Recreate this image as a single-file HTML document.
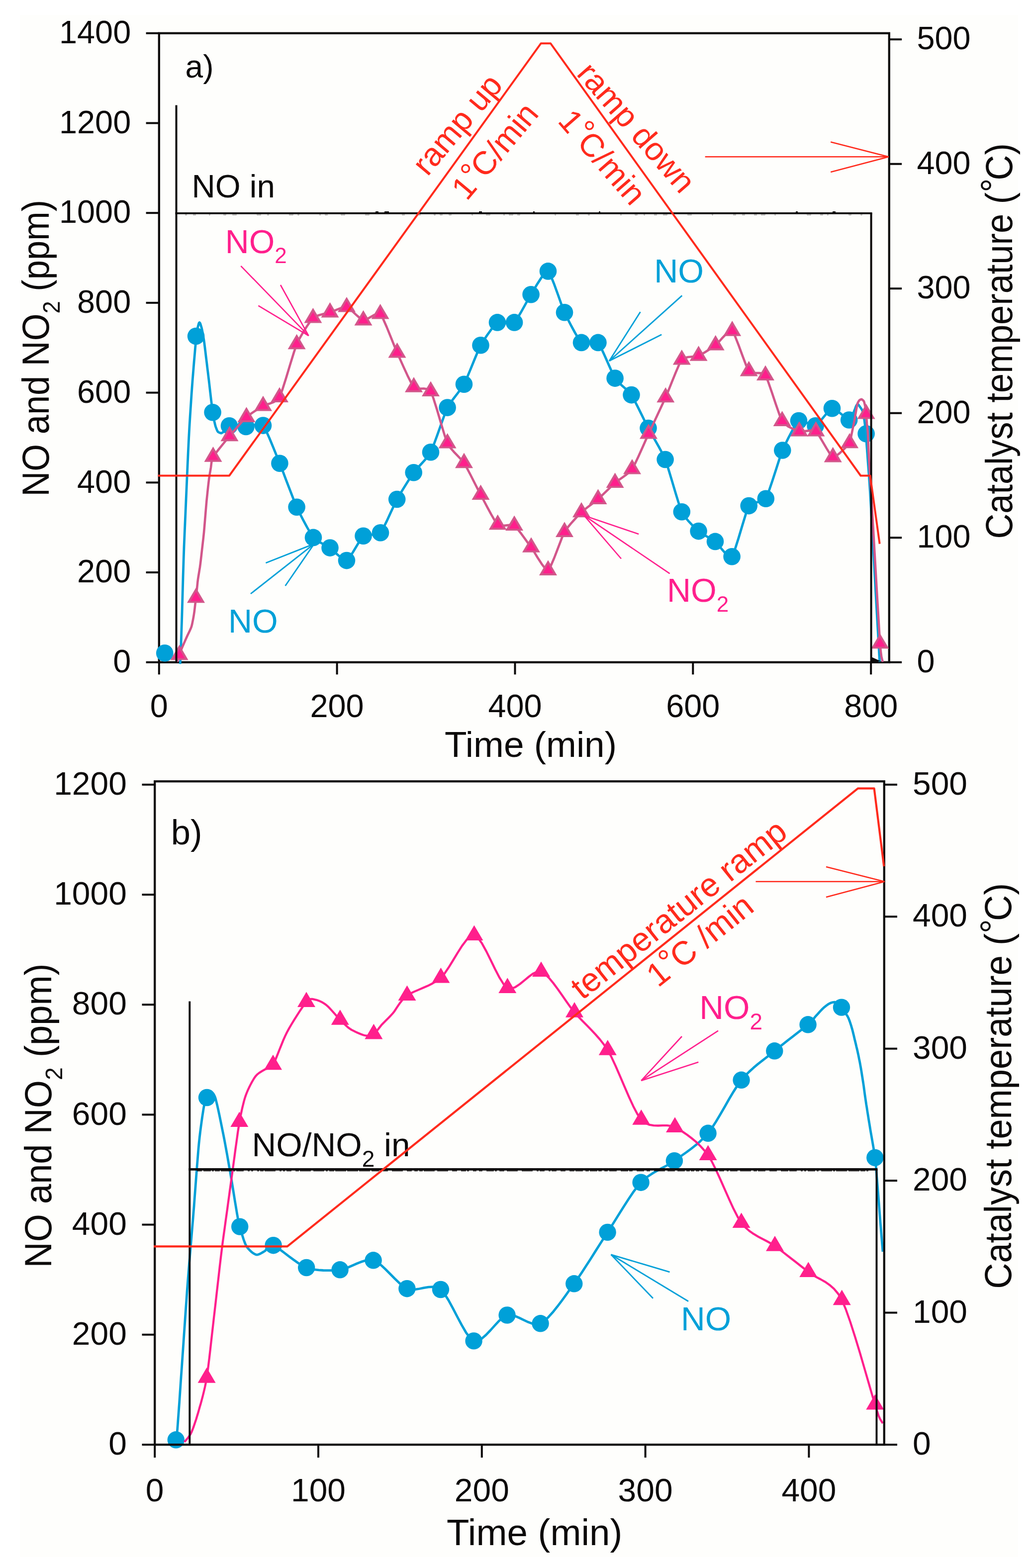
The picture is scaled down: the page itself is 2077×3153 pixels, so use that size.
<!DOCTYPE html>
<html lang="en">
<head>
<meta charset="utf-8">
<title>NO and NO2 concentration versus time during catalyst temperature ramps</title>
<style>
html,body{margin:0;padding:0;background:#ffffff;}
body{width:2077px;height:3153px;overflow:hidden;}
svg{display:block;font-family:"Liberation Sans", sans-serif;}
svg text{font-family:"Liberation Sans", sans-serif;}
</style>
</head>
<body>
<svg width="2077" height="3153" viewBox="0 0 2077 3153">
<rect x="0" y="0" width="2077" height="3153" fill="#ffffff"/>
<rect x="40" y="30" width="2007" height="3101" fill="#fefefc"/>
<rect x="319.8" y="66.8" width="1468" height="1264.9" fill="none" stroke="#0c0a0a" stroke-width="4.3"/>
<polyline points="362.2,1335.2 362.3,1333.6 362.5,1330.7 362.7,1327 363,1322.7 363.2,1318 363.5,1309.8 364,1296.5 364.5,1280.4 365,1264.1 365.5,1250 366.1,1229.9 367,1198.4 368,1161.9 369.1,1126.9 370,1100 371.4,1066.7 373.6,1016.2 376,960.4 378.2,911 379.7,880 380.8,859.7 382.2,836.7 383.7,813.9 385,794 386,780 387,766.3 388.5,747.7 390.1,728 391.6,710.9 392.5,700 393.2,692.5 394.1,684 395.1,675.5 395.9,668.5 396.5,664 397,661 397.7,657.9 398.5,654.9 399.1,652.5 399.5,651 399.8,650.2 400.1,649.5 400.5,649 400.8,648.6 401,648.5 401.3,648.6 401.6,649 402.1,649.6 402.5,650.3 402.8,651 403.2,652.3 403.9,654.5 404.7,657.2 405.5,659.8 406,662 406.6,664.9 407.5,669.4 408.4,674.6 409.3,679.8 410,684 410.8,689.7 411.9,698.4 413.1,708.3 414.2,717.5 415,724 415.8,730.2 416.8,738.9 418,748.5 419.1,757.7 420,765 421.1,774.6 422.8,789.4 424.7,805.8 426.5,820.2 427.6,829.2 428.5,834.9 429.7,841.3 431,847.4 432.2,852.6 433,856 433.8,858.5 434.9,861.4 436,864.2 437.1,866.6 438,868 439,868.9 440.6,869.7 442.3,870.4 443.9,870.9 445,871 446.1,870.5 447.6,869.6 449.3,868.3 450.8,867 452,866 453.1,864.5 454.7,862.2 456.5,859.6 458.7,857.5 461,856.3 465.4,856.2 472.7,856.6 481.1,857.1 489,857.7 494.5,857.9 499.9,857 507.6,855.1 515.9,853.4 523.6,853.2 529,855.6 534.3,864.7 541.7,881 549.7,900.3 557.1,918.6 562.4,931.7 567.8,945.4 575.3,965.3 583.7,987.1 591.2,1006.7 596.6,1019.7 601.9,1030.7 609.3,1045.1 617.4,1060.1 624.7,1072.9 630,1080.9 635.3,1085.6 642.7,1090.2 650.8,1094.7 658.2,1098.5 663.5,1101.6 668.8,1106.1 676.2,1113.1 684.3,1120.3 691.7,1125.7 697,1127.1 702.3,1121.6 709.7,1110.2 717.8,1096.7 725.2,1084.6 730.5,1077.7 735.9,1075.7 743.6,1075.2 752,1075 759.6,1074.1 765,1071.3 770.3,1062.7 777.6,1047.9 785.6,1030.6 793,1014.7 798.2,1004 803.5,994.9 810.9,982.7 819,969.7 826.4,958.1 831.7,950.2 837.1,943.7 844.7,935.5 853,926.4 860.6,917.4 866,909.3 871.3,896.5 878.8,876.1 886.9,853.2 894.3,832.7 899.6,819.6 904.9,810.9 912.3,801 920.3,790.6 927.7,780.8 933,772.7 938.3,761.2 945.7,743.4 953.8,723.5 961.2,705.8 966.5,694.3 971.8,685.5 979.2,674.4 987.3,663.1 994.7,653.7 1000,648.4 1005.4,647.3 1012.9,648.1 1021.2,649.4 1028.7,650 1034.1,648.4 1039.4,641.5 1046.8,629.1 1054.9,614.6 1062.3,601.2 1067.6,592.2 1073,583.3 1080.6,570.6 1089,557.6 1096.6,548.1 1102,545.4 1107.2,554 1114.5,572.2 1122.5,594.3 1129.8,614.9 1135,628.3 1140.3,639.2 1147.9,653.8 1156.1,669 1163.6,681.7 1169,688.9 1174.3,690.4 1181.7,689.4 1189.8,687.6 1197.2,686.9 1202.5,688.9 1207.9,698 1215.4,714.2 1223.7,733 1231.3,750 1236.6,760.6 1241.8,767 1249.1,773.9 1257,781.1 1264.3,788 1269.5,794.1 1274.8,803.5 1282.3,818.2 1290.6,834.9 1298.1,850.3 1303.5,861 1308.9,870.7 1316.4,883.9 1324.7,898.5 1332.3,912.6 1337.6,924 1342.9,939.7 1350.2,963.9 1358.2,990.9 1365.5,1014.6 1370.8,1029.2 1376.1,1037.9 1383.6,1047.1 1391.8,1055.9 1399.3,1063.2 1404.6,1068.1 1409.9,1071.9 1417.3,1076.5 1425.3,1081.1 1432.7,1085.4 1438,1088.9 1443.3,1094.5 1450.7,1103.6 1458.8,1112.8 1466.3,1119.1 1471.6,1119.2 1477,1107.1 1484.5,1083.5 1492.8,1055.8 1500.3,1031.2 1505.7,1017.1 1511.1,1012.4 1518.6,1010.4 1526.9,1009.2 1534.4,1007.2 1539.8,1002.8 1545.1,990.1 1552.5,968.3 1560.7,943.1 1568,920.2 1573.3,905.5 1578.5,894.1 1585.7,879.6 1593.6,864.7 1600.8,852.5 1606,846 1611.3,845.5 1618.7,848.3 1626.9,852.4 1634.3,855.7 1639.6,856.3 1644.9,851.9 1652.2,843.3 1660.3,833.4 1667.7,825.1 1673,821.2 1678.6,823.1 1686.6,828.7 1695.2,835.6 1702.7,841.7 1707.2,844.5 1709.5,843.6 1711.6,840.5 1713.5,836.5 1715,832.6 1716,830 1717,827.7 1718.3,824.4 1719.7,820.9 1720.8,817.8 1721.6,816 1722.2,815 1722.8,814 1723.5,813.2 1724.2,812.6 1724.7,812.5 1725.3,813 1726.3,814.2 1727.3,815.6 1728.3,817 1729,818 1729.8,819.1 1730.9,820.6 1732.1,822.5 1733.2,824.3 1734,826 1734.7,828.5 1735.6,832.5 1736.6,837.2 1737.4,841.6 1738,845 1738.5,849 1739.2,855 1739.9,861.6 1740.6,867.8 1741,872.2 1741.3,876 1741.7,881 1742.1,886.9 1742.5,893.3 1743,900 1743.9,911.5 1745.2,930.1 1746.9,952.1 1748.4,973.8 1749.6,991.6 1751,1015.4 1753,1052.2 1755.4,1094 1757.5,1132.7 1759,1160 1760.6,1188.4 1762.9,1229.3 1765.4,1273 1767.5,1310.1 1768.7,1331" fill="none" stroke="#00a0d8" stroke-width="4.8" stroke-linejoin="round" stroke-linecap="butt" />
<circle cx="331.2" cy="1313.3" r="17.3" fill="#00a0d8"/>
<circle cx="394.1" cy="676.1" r="17.3" fill="#00a0d8"/>
<circle cx="427.6" cy="829.2" r="17.3" fill="#00a0d8"/>
<circle cx="461" cy="856.3" r="17.3" fill="#00a0d8"/>
<circle cx="494.5" cy="857.9" r="17.3" fill="#00a0d8"/>
<circle cx="529" cy="855.6" r="17.3" fill="#00a0d8"/>
<circle cx="562.4" cy="931.7" r="17.3" fill="#00a0d8"/>
<circle cx="596.6" cy="1019.7" r="17.3" fill="#00a0d8"/>
<circle cx="630" cy="1080.9" r="17.3" fill="#00a0d8"/>
<circle cx="663.5" cy="1101.6" r="17.3" fill="#00a0d8"/>
<circle cx="697" cy="1127.1" r="17.3" fill="#00a0d8"/>
<circle cx="730.5" cy="1077.7" r="17.3" fill="#00a0d8"/>
<circle cx="765" cy="1071.3" r="17.3" fill="#00a0d8"/>
<circle cx="798.2" cy="1004" r="17.3" fill="#00a0d8"/>
<circle cx="831.7" cy="950.2" r="17.3" fill="#00a0d8"/>
<circle cx="866" cy="909.3" r="17.3" fill="#00a0d8"/>
<circle cx="899.6" cy="819.6" r="17.3" fill="#00a0d8"/>
<circle cx="933" cy="772.7" r="17.3" fill="#00a0d8"/>
<circle cx="966.5" cy="694.3" r="17.3" fill="#00a0d8"/>
<circle cx="1000" cy="648.4" r="17.3" fill="#00a0d8"/>
<circle cx="1034.1" cy="648.4" r="17.3" fill="#00a0d8"/>
<circle cx="1067.6" cy="592.2" r="17.3" fill="#00a0d8"/>
<circle cx="1102" cy="545.4" r="17.3" fill="#00a0d8"/>
<circle cx="1135" cy="628.3" r="17.3" fill="#00a0d8"/>
<circle cx="1169" cy="688.9" r="17.3" fill="#00a0d8"/>
<circle cx="1202.5" cy="688.9" r="17.3" fill="#00a0d8"/>
<circle cx="1236.6" cy="760.6" r="17.3" fill="#00a0d8"/>
<circle cx="1269.5" cy="794.1" r="17.3" fill="#00a0d8"/>
<circle cx="1303.5" cy="861" r="17.3" fill="#00a0d8"/>
<circle cx="1337.6" cy="924" r="17.3" fill="#00a0d8"/>
<circle cx="1370.8" cy="1029.2" r="17.3" fill="#00a0d8"/>
<circle cx="1404.6" cy="1068.1" r="17.3" fill="#00a0d8"/>
<circle cx="1438" cy="1088.9" r="17.3" fill="#00a0d8"/>
<circle cx="1471.6" cy="1119.2" r="17.3" fill="#00a0d8"/>
<circle cx="1505.7" cy="1017.1" r="17.3" fill="#00a0d8"/>
<circle cx="1539.8" cy="1002.8" r="17.3" fill="#00a0d8"/>
<circle cx="1573.3" cy="905.5" r="17.3" fill="#00a0d8"/>
<circle cx="1606" cy="846" r="17.3" fill="#00a0d8"/>
<circle cx="1639.6" cy="856.3" r="17.3" fill="#00a0d8"/>
<circle cx="1673" cy="821.2" r="17.3" fill="#00a0d8"/>
<circle cx="1707.2" cy="844.5" r="17.3" fill="#00a0d8"/>
<circle cx="1741.6" cy="872.2" r="17.3" fill="#00a0d8"/>
<polyline points="356,1331 356.6,1329.3 357.6,1326.2 358.7,1322.6 359.8,1319.3 360.6,1317 361.3,1315 362.3,1312.3 363.4,1309.3 364.5,1306.4 365.4,1304 366.7,1300.9 368.8,1296 371.2,1290.6 373.4,1285.6 375,1282 376.6,1278.6 378.9,1273.7 381.4,1268.5 383.6,1263.6 385,1260 386,1256.2 387.1,1250.9 388.3,1244.9 389.3,1239.3 390,1235 390.7,1230.1 391.6,1222.9 392.5,1214.9 393.4,1207.4 394,1202 394.6,1196.2 395.5,1188 396.5,1178.8 397.3,1170.6 398,1165 398.7,1160.3 399.7,1154.3 400.8,1147.5 401.9,1140.9 402.7,1135 403.8,1126.1 405.4,1112.1 407.2,1096.2 408.9,1081.4 410,1071 410.9,1060.7 412.1,1046.2 413.4,1030.4 414.6,1016.3 415.4,1007 416.2,999.4 417.2,989.7 418.3,979.6 419.3,970.8 420,965 420.6,960.4 421.5,954.7 422.5,948.9 423.4,943.7 424,940 424.4,936.7 424.9,932.3 425.6,927.4 426.8,922.6 428.5,918.5 432.7,912.6 439.8,903.5 448.2,893.1 456,883.6 461.5,877 466.8,870.7 474.4,861.9 482.6,852.5 490.1,844.2 495.5,838.7 500.8,834.6 508.2,829.4 516.3,824.1 523.7,819.4 529,816.2 534.2,814.1 541.5,811.8 549.4,808.9 556.7,804.7 562,798.8 567.4,784.7 575.1,760.5 583.5,732.7 591.2,707.8 596.6,692.1 601.8,681.5 609.1,668.8 617,656.3 624.2,645.8 629.4,639.4 634.7,636.2 642.3,633.5 650.6,631.3 658.1,629.6 663.5,628.2 668.8,626.1 676.2,623.1 684.3,619.9 691.7,617.7 697,617.3 702.3,620.6 709.7,627.1 717.8,634.6 725.2,641 730.5,644.2 735.9,642.8 743.4,638.5 751.7,633.7 759.2,630.6 764.6,631.4 770,640.5 777.5,657.5 785.7,677.6 793.2,696.4 798.5,709.2 803.8,720.9 811.2,737.4 819.3,754.9 826.7,769.8 832,778.5 837.3,781.1 844.9,781.5 853.1,781.4 860.6,782.6 866,786.9 871.3,800.5 878.8,824.3 886.9,851.8 894.3,876.3 899.6,891.3 904.9,899.7 912.3,908.3 920.3,916.7 927.7,924.5 933,931 938.3,940.3 945.7,954.3 953.8,970.2 961.2,984.7 966.5,994.8 971.9,1005 979.5,1019.3 987.8,1034.6 995.3,1047.6 1000.7,1055 1006,1057 1013.4,1056.9 1021.4,1056.1 1028.8,1055.6 1034.1,1056.9 1039.4,1062.3 1046.9,1071.7 1055.1,1082.9 1062.6,1093.3 1068,1100.6 1073.4,1108.9 1080.9,1121.3 1089.2,1134.1 1096.7,1143.8 1102,1146.7 1107.2,1138.6 1114.5,1121.5 1122.5,1100.7 1129.8,1081.6 1135,1069.7 1140.3,1062 1147.9,1052.8 1156.1,1043.6 1163.6,1035.5 1169,1030.1 1174.3,1025.5 1181.7,1019.7 1189.8,1013.6 1197.2,1008 1202.5,1003.7 1207.9,998.7 1215.4,991.4 1223.7,983.3 1231.2,975.9 1236.6,970.8 1242,966.7 1249.7,961.4 1258,955.4 1265.6,949.2 1271,943.3 1276.2,933.7 1283.5,918.2 1291.5,900.5 1298.8,884 1304,872.3 1309.4,860.9 1317,844.7 1325.3,827 1332.9,810.7 1338.3,799.1 1343.5,786.6 1350.7,768.6 1358.5,749.4 1365.6,732.9 1370.8,723.3 1376.1,719.8 1383.5,718 1391.7,717.3 1399.2,716.7 1404.6,715.6 1410,712.8 1417.5,708.2 1425.8,703 1433.3,698 1438.7,694.2 1444,689 1451.4,680.7 1459.5,672.2 1466.9,666.2 1472.2,665.5 1477.5,675 1484.9,693.6 1493,715.6 1500.4,735.1 1505.7,746.2 1511,749.4 1518.3,750.1 1526.4,750.1 1533.7,751.1 1539,754.8 1544.3,767 1551.7,788.2 1559.8,812.5 1567.3,834 1572.6,846.7 1578,852.7 1585.6,858 1594,862.3 1601.6,865.5 1607,867.4 1612.3,867.7 1619.7,866.9 1627.8,865.9 1635.2,865.8 1640.5,867.4 1645.9,874.5 1653.4,887.1 1661.8,901.4 1669.3,913.5 1674.7,919.2 1680.3,917.5 1688.2,911.4 1696.7,903.4 1704,895.8 1708.2,891.1 1709.8,888.6 1710.6,885.8 1710.9,882.8 1711.1,880 1711.4,877.3 1712.3,873.1 1713.6,866.5 1715.2,858.9 1716.6,851.8 1717.6,846.7 1718.6,841.3 1720,833.4 1721.5,824.8 1722.8,817.4 1723.7,813 1724.4,810.8 1725.3,808.8 1726.3,807.1 1727.2,805.8 1727.8,805 1728.5,804.4 1729.5,803.8 1730.6,803.3 1731.6,803 1732.3,802.9 1733.1,803.3 1734.1,804 1735.3,805 1736.3,806.1 1737,807 1737.5,808.3 1738,810.4 1738.6,812.8 1739.1,815.2 1739.5,817 1739.9,819.2 1740.3,822.5 1740.8,826.3 1741.3,829.8 1741.6,832.4 1741.8,835.3 1742.1,839.6 1742.5,844.4 1742.8,848.9 1743,852 1743.3,854.9 1743.7,858.8 1744.2,863.3 1744.7,867.8 1745,872 1745.3,878.3 1745.7,888.2 1746.1,899.8 1746.6,911 1747,920 1747.6,929.6 1748.4,943.3 1749.5,960.2 1750.7,979.4 1752,1000 1754.4,1041 1758.4,1109.7 1762.9,1187.2 1767,1254.9 1769.4,1294 1770.8,1309.4 1772.1,1319.4 1773.4,1325.4 1774.4,1328.8 1775,1331" fill="none" stroke="#d2568a" stroke-width="4.6" stroke-linejoin="round" stroke-linecap="butt" />
<polygon points="342.6,1327.2 378.6,1327.2 360.6,1296.6" fill="#d2568a"/>
<polygon points="349.8,1323.4 371.4,1323.4 360.6,1305" fill="#ff1f8c"/>
<polygon points="376,1212.3 412,1212.3 394,1181.7" fill="#d2568a"/>
<polygon points="383.2,1208.4 404.8,1208.4 394,1190.1" fill="#ff1f8c"/>
<polygon points="410.5,928.7 446.5,928.7 428.5,898.1" fill="#d2568a"/>
<polygon points="417.7,924.8 439.3,924.8 428.5,906.5" fill="#ff1f8c"/>
<polygon points="443.5,887.2 479.5,887.2 461.5,856.6" fill="#d2568a"/>
<polygon points="450.7,883.3 472.3,883.3 461.5,865" fill="#ff1f8c"/>
<polygon points="477.5,848.9 513.5,848.9 495.5,818.3" fill="#d2568a"/>
<polygon points="484.7,845.1 506.3,845.1 495.5,826.7" fill="#ff1f8c"/>
<polygon points="511,826.4 547,826.4 529,795.8" fill="#d2568a"/>
<polygon points="518.2,822.6 539.8,822.6 529,804.2" fill="#ff1f8c"/>
<polygon points="544,809 580,809 562,778.4" fill="#d2568a"/>
<polygon points="551.2,805.2 572.8,805.2 562,786.8" fill="#ff1f8c"/>
<polygon points="578.6,702.3 614.6,702.3 596.6,671.7" fill="#d2568a"/>
<polygon points="585.8,698.4 607.4,698.4 596.6,680.1" fill="#ff1f8c"/>
<polygon points="611.4,649.6 647.4,649.6 629.4,619" fill="#d2568a"/>
<polygon points="618.6,645.8 640.2,645.8 629.4,627.4" fill="#ff1f8c"/>
<polygon points="645.5,638.4 681.5,638.4 663.5,607.8" fill="#d2568a"/>
<polygon points="652.7,634.6 674.3,634.6 663.5,616.2" fill="#ff1f8c"/>
<polygon points="679,627.5 715,627.5 697,596.9" fill="#d2568a"/>
<polygon points="686.2,623.7 707.8,623.7 697,605.3" fill="#ff1f8c"/>
<polygon points="712.5,654.4 748.5,654.4 730.5,623.8" fill="#d2568a"/>
<polygon points="719.7,650.6 741.3,650.6 730.5,632.2" fill="#ff1f8c"/>
<polygon points="746.6,641.6 782.6,641.6 764.6,611" fill="#d2568a"/>
<polygon points="753.8,637.8 775.4,637.8 764.6,619.4" fill="#ff1f8c"/>
<polygon points="780.5,719.4 816.5,719.4 798.5,688.8" fill="#d2568a"/>
<polygon points="787.7,715.5 809.3,715.5 798.5,697.2" fill="#ff1f8c"/>
<polygon points="814,788.7 850,788.7 832,758.1" fill="#d2568a"/>
<polygon points="821.2,784.8 842.8,784.8 832,766.5" fill="#ff1f8c"/>
<polygon points="848,797.1 884,797.1 866,766.5" fill="#d2568a"/>
<polygon points="855.2,793.2 876.8,793.2 866,774.9" fill="#ff1f8c"/>
<polygon points="881.6,901.5 917.6,901.5 899.6,870.9" fill="#d2568a"/>
<polygon points="888.8,897.7 910.4,897.7 899.6,879.3" fill="#ff1f8c"/>
<polygon points="915,941.2 951,941.2 933,910.6" fill="#d2568a"/>
<polygon points="922.2,937.4 943.8,937.4 933,919" fill="#ff1f8c"/>
<polygon points="948.5,1005 984.5,1005 966.5,974.4" fill="#d2568a"/>
<polygon points="955.7,1001.2 977.3,1001.2 966.5,982.8" fill="#ff1f8c"/>
<polygon points="982.7,1065.2 1018.7,1065.2 1000.7,1034.6" fill="#d2568a"/>
<polygon points="989.9,1061.3 1011.5,1061.3 1000.7,1043" fill="#ff1f8c"/>
<polygon points="1016.1,1067.1 1052.1,1067.1 1034.1,1036.5" fill="#d2568a"/>
<polygon points="1023.3,1063.3 1044.9,1063.3 1034.1,1044.9" fill="#ff1f8c"/>
<polygon points="1050,1110.8 1086,1110.8 1068,1080.2" fill="#d2568a"/>
<polygon points="1057.2,1107 1078.8,1107 1068,1088.6" fill="#ff1f8c"/>
<polygon points="1084,1156.9 1120,1156.9 1102,1126.3" fill="#d2568a"/>
<polygon points="1091.2,1153 1112.8,1153 1102,1134.7" fill="#ff1f8c"/>
<polygon points="1117,1079.9 1153,1079.9 1135,1049.3" fill="#d2568a"/>
<polygon points="1124.2,1076.1 1145.8,1076.1 1135,1057.7" fill="#ff1f8c"/>
<polygon points="1151,1040.3 1187,1040.3 1169,1009.7" fill="#d2568a"/>
<polygon points="1158.2,1036.4 1179.8,1036.4 1169,1018.1" fill="#ff1f8c"/>
<polygon points="1184.5,1013.9 1220.5,1013.9 1202.5,983.3" fill="#d2568a"/>
<polygon points="1191.7,1010.1 1213.3,1010.1 1202.5,991.7" fill="#ff1f8c"/>
<polygon points="1218.6,981 1254.6,981 1236.6,950.4" fill="#d2568a"/>
<polygon points="1225.8,977.2 1247.4,977.2 1236.6,958.8" fill="#ff1f8c"/>
<polygon points="1253,953.5 1289,953.5 1271,922.9" fill="#d2568a"/>
<polygon points="1260.2,949.7 1281.8,949.7 1271,931.3" fill="#ff1f8c"/>
<polygon points="1286,882.5 1322,882.5 1304,851.9" fill="#d2568a"/>
<polygon points="1293.2,878.7 1314.8,878.7 1304,860.3" fill="#ff1f8c"/>
<polygon points="1320.3,809.3 1356.3,809.3 1338.3,778.7" fill="#d2568a"/>
<polygon points="1327.5,805.4 1349.1,805.4 1338.3,787.1" fill="#ff1f8c"/>
<polygon points="1352.8,733.5 1388.8,733.5 1370.8,702.9" fill="#d2568a"/>
<polygon points="1360,729.7 1381.6,729.7 1370.8,711.3" fill="#ff1f8c"/>
<polygon points="1386.6,725.8 1422.6,725.8 1404.6,695.2" fill="#d2568a"/>
<polygon points="1393.8,722 1415.4,722 1404.6,703.6" fill="#ff1f8c"/>
<polygon points="1420.7,704.4 1456.7,704.4 1438.7,673.8" fill="#d2568a"/>
<polygon points="1427.9,700.6 1449.5,700.6 1438.7,682.2" fill="#ff1f8c"/>
<polygon points="1454.2,675.7 1490.2,675.7 1472.2,645.1" fill="#d2568a"/>
<polygon points="1461.4,671.9 1483,671.9 1472.2,653.5" fill="#ff1f8c"/>
<polygon points="1487.7,756.4 1523.7,756.4 1505.7,725.8" fill="#d2568a"/>
<polygon points="1494.9,752.6 1516.5,752.6 1505.7,734.2" fill="#ff1f8c"/>
<polygon points="1521,765 1557,765 1539,734.4" fill="#d2568a"/>
<polygon points="1528.2,761.2 1549.8,761.2 1539,742.8" fill="#ff1f8c"/>
<polygon points="1554.6,856.9 1590.6,856.9 1572.6,826.3" fill="#d2568a"/>
<polygon points="1561.8,853.1 1583.4,853.1 1572.6,834.7" fill="#ff1f8c"/>
<polygon points="1589,877.6 1625,877.6 1607,847" fill="#d2568a"/>
<polygon points="1596.2,873.8 1617.8,873.8 1607,855.4" fill="#ff1f8c"/>
<polygon points="1622.5,877.6 1658.5,877.6 1640.5,847" fill="#d2568a"/>
<polygon points="1629.7,873.8 1651.3,873.8 1640.5,855.4" fill="#ff1f8c"/>
<polygon points="1656.7,929.4 1692.7,929.4 1674.7,898.8" fill="#d2568a"/>
<polygon points="1663.9,925.6 1685.5,925.6 1674.7,907.2" fill="#ff1f8c"/>
<polygon points="1690.2,901.3 1726.2,901.3 1708.2,870.7" fill="#d2568a"/>
<polygon points="1697.4,897.5 1719,897.5 1708.2,879.1" fill="#ff1f8c"/>
<polygon points="1723.6,842.6 1759.6,842.6 1741.6,812" fill="#d2568a"/>
<polygon points="1730.8,838.8 1752.4,838.8 1741.6,820.4" fill="#ff1f8c"/>
<polygon points="1751.4,1304.3 1787.4,1304.3 1769.4,1273.7" fill="#d2568a"/>
<polygon points="1758.6,1300.5 1780.2,1300.5 1769.4,1282.1" fill="#ff1f8c"/>
<line x1="354.5" y1="1331.7" x2="354.5" y2="211.5" stroke="#0c0a0a" stroke-width="4" stroke-linecap="butt"/>
<line x1="352.5" y1="428.9" x2="1753.6" y2="428.9" stroke="#0c0a0a" stroke-width="3.9" stroke-linecap="butt"/>
<line x1="1751.6" y1="428.9" x2="1751.6" y2="1331.7" stroke="#0c0a0a" stroke-width="4" stroke-linecap="butt"/>
<polygon points="1753,1321.5 1772,1330 1753,1330" fill="#0c0a0a"/>
<path d="M755 426.1h6 M773 426.1h9 M963 426.1h6 M1072 426.1h3 M1204 426.1h3 M1600 426.1h4 M1674 426.1h6" stroke="#0c0a0a" stroke-width="2" fill="none"/>
<path d="M372 432.3h4 M388 432.3h6 M420 432.3h3 M449 432.3h6 M467 432.3h9 M516 432.3h9 M537 432.3h4 M581 432.3h9 M598 432.3h4 M642 432.3h3 M653 432.3h6 M685 432.3h9 M734 432.3h9 M808 432.3h6 M840 432.3h6 M872 432.3h4 M884 432.3h6 M902 432.3h6 M948 432.3h3 M977 432.3h9 M1012 432.3h3 M1023 432.3h9 M1040 432.3h6 M1115 432.3h3 M1158 432.3h6 M1182 432.3h4 M1247 432.3h3 M1276 432.3h6 M1294 432.3h3 M1315 432.3h6 M1333 432.3h9 M1382 432.3h9 M1431 432.3h3 M1474 432.3h6 M1492 432.3h6 M1516 432.3h6 M1530 432.3h9 M1557 432.3h3 M1622 432.3h9 M1649 432.3h6 M1663 432.3h3 M1706 432.3h6 M1730 432.3h4" stroke="#0c0a0a" stroke-width="1.4" stroke-opacity="0.4" fill="none"/>
<line x1="484.3" y1="534.8" x2="620.5" y2="675.2" stroke="#ff1f8c" stroke-width="2.6" stroke-linecap="butt"/>
<line x1="564" y1="573" x2="620.5" y2="675.2" stroke="#ff1f8c" stroke-width="2.6" stroke-linecap="butt"/>
<line x1="519.4" y1="614.6" x2="620.5" y2="675.2" stroke="#ff1f8c" stroke-width="2.6" stroke-linecap="butt"/>
<line x1="504" y1="1194" x2="631.6" y2="1093.6" stroke="#00a0d8" stroke-width="2.8" stroke-linecap="butt"/>
<line x1="534.4" y1="1132" x2="631.6" y2="1093.6" stroke="#00a0d8" stroke-width="2.8" stroke-linecap="butt"/>
<line x1="573.6" y1="1178" x2="631.6" y2="1093.6" stroke="#00a0d8" stroke-width="2.8" stroke-linecap="butt"/>
<line x1="1371.3" y1="594.4" x2="1225" y2="725.8" stroke="#00a0d8" stroke-width="2.8" stroke-linecap="butt"/>
<line x1="1287.5" y1="627.3" x2="1225" y2="725.8" stroke="#00a0d8" stroke-width="2.8" stroke-linecap="butt"/>
<line x1="1330.2" y1="672.8" x2="1225" y2="725.8" stroke="#00a0d8" stroke-width="2.8" stroke-linecap="butt"/>
<line x1="1346.6" y1="1153.4" x2="1174.4" y2="1036.7" stroke="#ff1f8c" stroke-width="2.6" stroke-linecap="butt"/>
<line x1="1284.2" y1="1073.9" x2="1174.4" y2="1036.7" stroke="#ff1f8c" stroke-width="2.6" stroke-linecap="butt"/>
<line x1="1249" y1="1123.5" x2="1174.4" y2="1036.7" stroke="#ff1f8c" stroke-width="2.6" stroke-linecap="butt"/>
<text x="372.6" y="155.8" font-size="64" fill="#0c0a0a">a)</text>
<text x="385.4" y="396.8" font-size="65.5" fill="#0c0a0a">NO in</text>
<text x="452.8" y="509" font-size="66.3" fill="#ff1f8c">NO<tspan font-size="44" dy="19.5">2</tspan></text>
<text x="458.9" y="1272" font-size="66.5" fill="#00a0d8">NO</text>
<text x="1315.3" y="568" font-size="66.5" fill="#00a0d8">NO</text>
<text x="1340.9" y="1210" font-size="66.5" fill="#ff1f8c">NO<tspan font-size="44" dy="19.5">2</tspan></text>
<line x1="293.6" y1="1331.7" x2="319.8" y2="1331.7" stroke="#0c0a0a" stroke-width="4" stroke-linecap="butt"/>
<text x="263.2" y="1351.9" font-size="64.8" fill="#0c0a0a" text-anchor="end">0</text>
<line x1="293.6" y1="1151" x2="319.8" y2="1151" stroke="#0c0a0a" stroke-width="4" stroke-linecap="butt"/>
<text x="263.2" y="1171.2" font-size="64.8" fill="#0c0a0a" text-anchor="end">200</text>
<line x1="293.6" y1="970.3" x2="319.8" y2="970.3" stroke="#0c0a0a" stroke-width="4" stroke-linecap="butt"/>
<text x="263.2" y="990.5" font-size="64.8" fill="#0c0a0a" text-anchor="end">400</text>
<line x1="293.6" y1="789.6" x2="319.8" y2="789.6" stroke="#0c0a0a" stroke-width="4" stroke-linecap="butt"/>
<text x="263.2" y="809.8" font-size="64.8" fill="#0c0a0a" text-anchor="end">600</text>
<line x1="293.6" y1="608.9" x2="319.8" y2="608.9" stroke="#0c0a0a" stroke-width="4" stroke-linecap="butt"/>
<text x="263.2" y="629.1" font-size="64.8" fill="#0c0a0a" text-anchor="end">800</text>
<line x1="293.6" y1="428.2" x2="319.8" y2="428.2" stroke="#0c0a0a" stroke-width="4" stroke-linecap="butt"/>
<text x="263.2" y="448.4" font-size="64.8" fill="#0c0a0a" text-anchor="end">1000</text>
<line x1="293.6" y1="247.5" x2="319.8" y2="247.5" stroke="#0c0a0a" stroke-width="4" stroke-linecap="butt"/>
<text x="263.2" y="267.7" font-size="64.8" fill="#0c0a0a" text-anchor="end">1200</text>
<line x1="293.6" y1="66.8" x2="319.8" y2="66.8" stroke="#0c0a0a" stroke-width="4" stroke-linecap="butt"/>
<text x="263.2" y="87" font-size="64.8" fill="#0c0a0a" text-anchor="end">1400</text>
<line x1="1787.8" y1="1331.7" x2="1813.2" y2="1331.7" stroke="#0c0a0a" stroke-width="4" stroke-linecap="butt"/>
<text x="1843.5" y="1351.9" font-size="64.8" fill="#0c0a0a">0</text>
<line x1="1787.8" y1="1081.2" x2="1813.2" y2="1081.2" stroke="#0c0a0a" stroke-width="4" stroke-linecap="butt"/>
<text x="1843.5" y="1101.4" font-size="64.8" fill="#0c0a0a">100</text>
<line x1="1787.8" y1="830.7" x2="1813.2" y2="830.7" stroke="#0c0a0a" stroke-width="4" stroke-linecap="butt"/>
<text x="1843.5" y="850.9" font-size="64.8" fill="#0c0a0a">200</text>
<line x1="1787.8" y1="580.2" x2="1813.2" y2="580.2" stroke="#0c0a0a" stroke-width="4" stroke-linecap="butt"/>
<text x="1843.5" y="600.4" font-size="64.8" fill="#0c0a0a">300</text>
<line x1="1787.8" y1="329.7" x2="1813.2" y2="329.7" stroke="#0c0a0a" stroke-width="4" stroke-linecap="butt"/>
<text x="1843.5" y="349.9" font-size="64.8" fill="#0c0a0a">400</text>
<line x1="1787.8" y1="79.2" x2="1813.2" y2="79.2" stroke="#0c0a0a" stroke-width="4" stroke-linecap="butt"/>
<text x="1843.5" y="99.4" font-size="64.8" fill="#0c0a0a">500</text>
<line x1="319.8" y1="1331.7" x2="319.8" y2="1356.3" stroke="#0c0a0a" stroke-width="4" stroke-linecap="butt"/>
<text x="319.8" y="1442.3" font-size="64.8" fill="#0c0a0a" text-anchor="middle">0</text>
<line x1="677.6" y1="1331.7" x2="677.6" y2="1356.3" stroke="#0c0a0a" stroke-width="4" stroke-linecap="butt"/>
<text x="677.6" y="1442.3" font-size="64.8" fill="#0c0a0a" text-anchor="middle">200</text>
<line x1="1035.5" y1="1331.7" x2="1035.5" y2="1356.3" stroke="#0c0a0a" stroke-width="4" stroke-linecap="butt"/>
<text x="1035.5" y="1442.3" font-size="64.8" fill="#0c0a0a" text-anchor="middle">400</text>
<line x1="1393.3" y1="1331.7" x2="1393.3" y2="1356.3" stroke="#0c0a0a" stroke-width="4" stroke-linecap="butt"/>
<text x="1393.3" y="1442.3" font-size="64.8" fill="#0c0a0a" text-anchor="middle">600</text>
<line x1="1751.2" y1="1331.7" x2="1751.2" y2="1356.3" stroke="#0c0a0a" stroke-width="4" stroke-linecap="butt"/>
<text x="1751.2" y="1442.3" font-size="64.8" fill="#0c0a0a" text-anchor="middle">800</text>
<text x="1067" y="1522" font-size="73" fill="#0c0a0a" text-anchor="middle">Time (min)</text>
<text x="0" y="0" font-size="73" fill="#0c0a0a" transform="translate(98.3 998.5) rotate(-90) scale(0.965 1.03)">NO and NO<tspan font-size="47" dy="21">2</tspan><tspan dy="-21"> (ppm)</tspan></text>
<text x="0" y="0" font-size="73" fill="#0c0a0a" transform="translate(2034.5 1083.5) rotate(-90) scale(0.965 1.03)">Catalyst temperature (<tspan dy="-9">&#176;</tspan><tspan dy="9" dx="-4">C)</tspan></text>
<polyline points="317.6,956.5 461,956.5 1087.7,87.2 1106.9,87.2 1730.5,956.5 1749.6,956.5 1768.7,1093.6" fill="none" stroke="#ff2a1c" stroke-width="4" stroke-linejoin="round" stroke-linecap="butt" stroke-linejoin="miter"/>
<line x1="1417.7" y1="315.3" x2="1786.7" y2="315.3" stroke="#ff2a1c" stroke-width="2.6" stroke-linecap="butt"/>
<line x1="1670.2" y1="285.5" x2="1786.7" y2="315.3" stroke="#ff2a1c" stroke-width="2.6" stroke-linecap="butt"/>
<line x1="1670.2" y1="345.9" x2="1786.7" y2="315.3" stroke="#ff2a1c" stroke-width="2.6" stroke-linecap="butt"/>
<text x="0" y="0" font-size="65.3" fill="#ff2a1c" transform="translate(859.4 356.2) rotate(-50)">ramp up</text>
<text x="0" y="0" font-size="65.3" fill="#ff2a1c" transform="translate(938.5 405.5) rotate(-50)">1<tspan dy="-8">&#176;</tspan><tspan dy="8" dx="-4">C/min</tspan></text>
<text x="0" y="0" font-size="65" fill="#ff2a1c" transform="translate(1157.5 149.5) rotate(49)">ramp down</text>
<text x="0" y="0" font-size="65" fill="#ff2a1c" transform="translate(1119.5 244.5) rotate(49)">1<tspan dy="-8">&#176;</tspan><tspan dy="8" dx="-4">C/min</tspan></text>
<polyline points="353.8,2895.3 354,2894.3 354.2,2893.5 354.5,2892.4 354.8,2890.8 355.2,2888.5 355.6,2885 356.1,2880.1 356.7,2873.5 357.4,2864.1 358.3,2851.7 359.4,2836.8 360.6,2820.2 361.8,2802.6 363,2784.7 364.2,2767.2 365.4,2750.8 366.6,2733.1 368.1,2711.9 369.7,2688.4 371.4,2663.8 373.1,2639 374.8,2615.3 376.3,2593.7 377.7,2575.4 379,2558.7 380.4,2541.3 381.9,2523.6 383.4,2505.9 384.9,2488.4 386.3,2471.4 387.7,2455.1 388.9,2440 390.2,2424.1 391.5,2405.9 393,2386.3 394.5,2366.3 396,2346.6 397.5,2328.3 398.8,2312.1 400,2299 401.2,2287.7 402.5,2276.6 403.9,2265.8 405.3,2255.5 406.6,2246.1 407.9,2237.8 409,2230.6 410,2225 410.8,2220.7 411.6,2217.3 412.4,2214.7 413.1,2212.6 413.8,2211 414.6,2209.7 415.3,2208.4 416,2207 416.8,2205.4 417.7,2203.7 418.7,2202 419.8,2200.4 420.9,2199 422,2197.9 423,2197.2 424,2197 425,2197.2 426,2197.4 427.1,2198 428.3,2198.9 429.6,2200.4 430.9,2202.6 432.2,2205.6 433.5,2209.6 435,2215.3 436.9,2223.1 439,2232.5 441.2,2242.8 443.4,2253.5 445.6,2264.2 447.6,2274.2 449.4,2283 451.1,2291.7 452.9,2301.4 454.8,2311.8 456.8,2322.6 458.7,2333.5 460.5,2344 462.3,2353.8 463.8,2362.7 465.3,2371.7 467,2382 468.8,2393 470.6,2404.1 472.3,2414.9 474,2424.9 475.4,2433.4 476.5,2440 477.4,2444.9 478.1,2449 478.8,2452.4 479.3,2455.3 479.9,2458 480.6,2460.7 481.3,2463.4 482.2,2466.6 483.3,2470.5 484.7,2475.3 486.2,2480.7 487.9,2486.3 489.6,2491.8 491.5,2497 493.3,2501.5 495,2505 496.9,2508 499.2,2510.9 501.8,2513.7 504.5,2516.3 507.2,2518.6 509.9,2520.5 512.4,2521.9 514.5,2522.8 516.5,2523.1 518.7,2522.8 521,2522 523.3,2521 525.7,2519.7 527.9,2518.4 530,2517.1 532,2516 533.7,2514.6 535.2,2512.4 536.6,2509.9 538.2,2507.4 540.1,2505.2 542.6,2503.7 545.7,2503.3 549.6,2504.2 555.1,2507.2 562.3,2512.2 570.9,2518.6 580.3,2525.8 590,2533 599.5,2539.7 608.4,2545.3 616.2,2549 623.7,2551.2 632,2552.9 640.8,2553.9 649.9,2554.5 659,2554.7 667.8,2554.5 676.1,2554 683.6,2553.3 691.1,2551.7 699.4,2548.7 708.1,2545 717.1,2541 726.1,2537.4 734.8,2534.7 743.1,2533.5 750.6,2534.3 758.2,2537.9 766.5,2544.3 775.3,2552.5 784.5,2561.7 793.6,2571 802.5,2579.6 810.8,2586.6 818.4,2591.2 826,2593 834.3,2592.9 843.2,2591.5 852.3,2589.7 861.4,2588.1 870.2,2587.7 878.5,2589 886,2593 893.5,2601.4 901.7,2614.4 910.4,2630.3 919.3,2647.5 928.3,2664.4 936.9,2679.3 945.1,2690.5 952.6,2696.4 960.1,2696.4 968.3,2692 977.1,2684.4 986.1,2675 995.1,2665 1003.8,2655.7 1012.1,2648.4 1019.6,2644.5 1027.1,2644.2 1035.3,2646.3 1044.1,2650 1053.1,2654.4 1062.1,2658.6 1070.8,2661.7 1079.1,2662.9 1086.6,2661.3 1094.1,2656.4 1102.5,2648.7 1111.3,2638.9 1120.4,2627.6 1129.5,2615.6 1138.4,2603.4 1146.7,2591.7 1154.3,2581.3 1161.8,2570.7 1170.1,2558.3 1178.9,2544.8 1188,2530.7 1197,2516.4 1205.8,2502.5 1214.1,2489.5 1221.6,2477.9 1229.1,2466.2 1237.4,2453 1246.1,2439 1255.1,2424.7 1264.1,2410.7 1272.8,2397.8 1281.1,2386.6 1288.6,2377.7 1296.1,2370.6 1304.4,2364.4 1313.2,2358.7 1322.2,2353.6 1331.3,2348.7 1340.1,2344 1348.4,2339.2 1355.9,2334.2 1363.5,2328.8 1371.8,2322.9 1380.7,2316.6 1389.8,2309.8 1398.9,2302.7 1407.7,2295.1 1416.1,2287.1 1423.6,2278.8 1431.1,2268.6 1439.4,2255.7 1448.2,2241.1 1457.2,2225.5 1466.1,2209.8 1474.9,2195.1 1483.1,2182.1 1490.6,2171.8 1498.1,2163.3 1506.3,2155.1 1515,2147.2 1523.9,2139.7 1532.9,2132.6 1541.6,2125.8 1549.8,2119.3 1557.3,2113.3 1565.1,2106.9 1574.1,2099.8 1583.8,2092.2 1593.6,2084.6 1603.2,2077.2 1611.8,2070.5 1619.2,2064.7 1624.6,2060.3 1628.4,2057 1631.3,2054.2 1633.4,2051.9 1635,2050 1636.3,2048.3 1637.4,2046.7 1638.6,2045.1 1640,2043.5 1641.7,2041.6 1643.6,2039.6 1645.6,2037.4 1647.6,2035.1 1649.7,2032.9 1651.6,2030.9 1653.4,2029 1655,2027.5 1656.5,2026.1 1658.2,2024.7 1659.9,2023.3 1661.7,2021.9 1663.4,2020.7 1665,2019.5 1666.6,2018.6 1668,2017.8 1669.4,2017.2 1670.9,2016.6 1672.5,2016 1674.1,2015.6 1675.7,2015.3 1677.2,2015.2 1678.7,2015.2 1680,2015.5 1681.3,2016.1 1682.8,2017.2 1684.4,2018.5 1686,2020 1687.6,2021.6 1689,2023.1 1690.4,2024.6 1691.5,2025.8 1692.5,2026.9 1693.5,2028.2 1694.5,2029.5 1695.5,2030.8 1696.4,2032.2 1697.3,2033.5 1698.2,2034.8 1699,2036 1699.8,2037.2 1700.7,2038.4 1701.6,2039.7 1702.5,2041.1 1703.5,2042.5 1704.4,2044.1 1705.2,2045.7 1706,2047.3 1706.8,2049.2 1707.6,2051.5 1708.6,2054 1709.5,2056.8 1710.4,2059.6 1711.4,2062.5 1712.2,2065.3 1713,2068 1713.8,2070.9 1714.7,2074.3 1715.6,2078.1 1716.6,2082 1717.5,2086 1718.4,2089.9 1719.3,2093.4 1720,2096.4 1720.7,2099.2 1721.4,2102.2 1722.1,2105.3 1722.9,2108.4 1723.6,2111.4 1724.3,2114.4 1724.9,2117.3 1725.5,2120 1726.1,2122.7 1726.7,2125.7 1727.3,2128.9 1728,2132.2 1728.7,2135.6 1729.3,2138.9 1729.9,2142.3 1730.5,2145.5 1731.1,2149 1731.8,2153.1 1732.5,2157.5 1733.2,2162.2 1734,2167 1734.7,2171.6 1735.4,2176 1736,2180 1736.6,2183.8 1737.1,2187.9 1737.7,2192.2 1738.3,2196.7 1738.9,2201.3 1739.6,2206.1 1740.3,2210.9 1741,2215.7 1741.8,2221.2 1742.9,2227.7 1744,2235 1745.3,2242.8 1746.5,2250.7 1747.8,2258.4 1749,2265.6 1750,2272 1751.1,2278.3 1752.3,2285.2 1753.6,2292.6 1754.9,2300.2 1756.2,2307.7 1757.4,2315 1758.4,2321.8 1759.3,2327.9 1760,2333.8 1760.7,2340 1761.3,2346.5 1761.8,2353.2 1762.4,2360 1762.9,2366.8 1763.5,2373.5 1764,2380 1764.6,2387.1 1765.2,2395.5 1766,2404.6 1766.7,2414.2 1767.5,2423.9 1768.2,2433.4 1768.9,2442.2 1769.5,2450 1770.1,2458 1770.9,2467.2 1771.7,2477.2 1772.5,2487.2 1773.3,2496.7 1774,2505.3 1774.6,2512.2 1775,2517" fill="none" stroke="#00a0d8" stroke-width="4.8" stroke-linejoin="round" stroke-linecap="butt" />
<circle cx="353.8" cy="2895.3" r="17.2" fill="#00a0d8"/>
<circle cx="416" cy="2207" r="17.2" fill="#00a0d8"/>
<circle cx="482.2" cy="2466.6" r="17.2" fill="#00a0d8"/>
<circle cx="549.6" cy="2504.2" r="17.2" fill="#00a0d8"/>
<circle cx="616.2" cy="2549" r="17.2" fill="#00a0d8"/>
<circle cx="683.6" cy="2553.3" r="17.2" fill="#00a0d8"/>
<circle cx="750.6" cy="2534.3" r="17.2" fill="#00a0d8"/>
<circle cx="818.4" cy="2591.2" r="17.2" fill="#00a0d8"/>
<circle cx="886" cy="2593" r="17.2" fill="#00a0d8"/>
<circle cx="952.6" cy="2696.4" r="17.2" fill="#00a0d8"/>
<circle cx="1019.6" cy="2644.5" r="17.2" fill="#00a0d8"/>
<circle cx="1086.6" cy="2661.3" r="17.2" fill="#00a0d8"/>
<circle cx="1154.3" cy="2581.3" r="17.2" fill="#00a0d8"/>
<circle cx="1221.6" cy="2477.9" r="17.2" fill="#00a0d8"/>
<circle cx="1288.6" cy="2377.7" r="17.2" fill="#00a0d8"/>
<circle cx="1355.9" cy="2334.2" r="17.2" fill="#00a0d8"/>
<circle cx="1423.6" cy="2278.8" r="17.2" fill="#00a0d8"/>
<circle cx="1490.6" cy="2171.8" r="17.2" fill="#00a0d8"/>
<circle cx="1557.3" cy="2113.3" r="17.2" fill="#00a0d8"/>
<circle cx="1624.6" cy="2060.3" r="17.2" fill="#00a0d8"/>
<circle cx="1692" cy="2025.6" r="17.2" fill="#00a0d8"/>
<circle cx="1759.3" cy="2327.9" r="17.2" fill="#00a0d8"/>
<polyline points="370.7,2899.8 371.7,2898.5 373.2,2896.8 375,2894.7 377.1,2892.3 379.2,2889.5 381.3,2886.5 383.3,2883.3 385,2880 386.6,2876.1 388.5,2871.3 390.4,2865.8 392.4,2859.8 394.5,2853.6 396.4,2847.2 398.3,2841 400,2835 401.7,2828.9 403.7,2822.1 405.7,2814.7 407.8,2806.7 409.9,2798.2 412,2789.3 413.9,2780.1 415.6,2770.5 417.3,2759.3 419,2745.7 420.9,2730.2 422.8,2713.7 424.7,2696.7 426.6,2680 428.4,2664.2 430,2650 431.7,2635.6 433.6,2619 435.6,2601.2 437.7,2582.9 439.8,2564.8 441.7,2547.8 443.5,2532.6 445,2520 446.4,2509.1 447.7,2498.5 449.1,2488.2 450.5,2478.1 451.9,2468.2 453.2,2458.6 454.5,2449.2 455.8,2440 457.2,2430.1 458.7,2418.8 460.4,2406.6 462.1,2393.9 463.9,2381.1 465.6,2368.7 467.2,2357.1 468.6,2346.7 470,2336.3 471.6,2324.7 473.2,2312.4 475,2299.8 476.7,2287.5 478.3,2275.9 479.9,2265.6 481.3,2257 482.7,2249.4 484.2,2241.9 485.7,2234.5 487.3,2227.3 489,2220.4 490.6,2214 492.3,2208.2 494,2203 495.9,2198 498.1,2192.7 500.6,2187.3 503.3,2181.9 505.9,2176.9 508.6,2172.2 511,2168.2 513.2,2165 515.4,2162.4 517.7,2160.1 520.3,2158.1 522.9,2156.3 525.5,2154.7 528,2153.2 530.3,2151.9 532.3,2150.6 534.2,2149.7 536.1,2149.2 538.1,2148.9 540.2,2148.5 542.3,2147.8 544.5,2146.5 546.7,2144.3 549,2141 551.6,2135.9 554.7,2128.9 558.1,2120.4 561.8,2111 565.7,2101.4 569.5,2091.9 573.4,2083.1 577,2075.7 581,2068.4 585.9,2060 591.3,2051.1 597,2042.1 602.6,2033.4 607.8,2025.7 612.4,2019.3 616,2014.8 618.9,2011.9 621.5,2010.1 623.9,2009.1 626.1,2008.8 628.2,2008.9 630.3,2009.3 632.3,2009.8 634.4,2010.3 636.7,2010.8 639.3,2011.7 642.1,2012.8 645.1,2014.1 648.1,2015.7 651.1,2017.5 654,2019.4 656.7,2021.5 659.6,2024.1 662.9,2027.5 666.5,2031.4 670.3,2035.7 674.1,2039.9 677.7,2044 681,2047.7 683.8,2050.6 686.3,2053.1 688.9,2055.7 691.5,2058.3 694.1,2060.8 696.7,2063.2 699.3,2065.5 701.9,2067.5 704.5,2069.3 707.4,2071.1 711,2072.9 714.9,2074.9 719,2076.8 723.1,2078.5 726.9,2080 730.4,2081.2 733.2,2082 735.7,2082.4 738.1,2082.6 740.5,2082.5 742.9,2082.3 745.2,2081.8 747.4,2081.1 749.5,2080.3 751.4,2079.2 753.3,2077.7 755.4,2075.7 757.5,2073.2 759.7,2070.5 761.9,2067.6 764.1,2064.8 766.2,2062.1 768.3,2059.7 770.5,2057.4 773,2054.9 775.7,2052.2 778.5,2049.4 781.5,2046.5 784.4,2043.5 787.3,2040.4 790,2037.4 792.7,2034 795.5,2029.8 798.5,2025.2 801.8,2020.3 805.4,2015.3 809.3,2010.5 813.7,2005.9 818.5,2001.8 824.5,1998.1 832.1,1994.4 840.9,1990.6 850.4,1986.6 860.2,1982.3 869.7,1977.5 878.6,1972.2 886.4,1966.2 893.9,1957.5 902.2,1945.3 911,1931 920,1916.1 928.9,1902.1 937.7,1890.5 945.9,1882.9 953.4,1880.8 960.9,1885.8 969.1,1897.1 977.8,1912.9 986.8,1931 995.8,1949.5 1004.5,1966.2 1012.8,1979.3 1020.3,1986.7 1027.8,1987.9 1036.2,1984.9 1045,1979 1054.1,1971.6 1063.3,1964 1072.1,1957.6 1080.4,1953.8 1088,1953.9 1095.5,1958.5 1103.8,1966.4 1112.5,1976.9 1121.5,1989 1130.5,2001.8 1139.3,2014.4 1147.5,2026 1155,2035.5 1162.5,2043.9 1170.7,2052.5 1179.4,2061.3 1188.4,2070.5 1197.3,2080 1206.1,2090 1214.3,2100.5 1221.8,2111.5 1229.3,2125.3 1237.6,2143.1 1246.4,2163.4 1255.5,2184.7 1264.6,2205.6 1273.4,2224.7 1281.7,2240.5 1289.3,2251.5 1296.9,2258 1305.2,2261.6 1314.1,2263.2 1323.2,2263.5 1332.3,2263.2 1341.2,2263.2 1349.5,2264.1 1357,2266.7 1364.5,2270.9 1372.7,2275.9 1381.4,2281.8 1390.3,2288.5 1399.3,2295.9 1407.9,2304.2 1416.1,2313.2 1423.6,2322.9 1431.1,2335.4 1439.3,2351.9 1448.1,2371 1457.1,2391.4 1466.1,2411.7 1474.8,2430.6 1483.1,2446.8 1490.6,2458.9 1498.1,2467.7 1506.4,2475 1515.2,2481.2 1524.3,2486.6 1533.3,2491.4 1542.2,2496 1550.5,2500.6 1558,2505.5 1565.5,2511.1 1573.8,2517.4 1582.6,2524.2 1591.6,2531.2 1600.7,2538.3 1609.5,2545.2 1617.8,2551.8 1625.3,2557.9 1632.8,2563.1 1641.1,2567.8 1650,2572.5 1659,2577.6 1668.1,2583.9 1676.9,2591.6 1685.2,2601.5 1692.7,2614 1700.5,2632.4 1709.5,2657.9 1719.2,2688.2 1729.1,2720.7 1738.5,2753 1747.1,2782.7 1754.2,2807.2 1759.3,2824.2 1762.6,2834.6 1764.8,2841.5 1766.1,2845.5 1766.8,2847.5 1767.1,2848.2 1767.2,2848.4 1767.4,2848.7 1768,2850 1768.9,2852 1769.9,2853.9 1770.9,2855.7 1772,2857.4 1772.9,2858.9 1773.8,2860.2 1774.5,2861.2 1775,2862" fill="none" stroke="#ff1f8c" stroke-width="4.3" stroke-linejoin="round" stroke-linecap="butt" />
<polygon points="397.6,2780.7 433.6,2780.7 415.6,2750.1" fill="#ff1f8c"/>
<polygon points="463.3,2266 499.3,2266 481.3,2235.4" fill="#ff1f8c"/>
<polygon points="531,2151.3 567,2151.3 549,2120.7" fill="#ff1f8c"/>
<polygon points="598,2025 634,2025 616,1994.4" fill="#ff1f8c"/>
<polygon points="665.8,2060.8 701.8,2060.8 683.8,2030.2" fill="#ff1f8c"/>
<polygon points="733.4,2089.4 769.4,2089.4 751.4,2058.8" fill="#ff1f8c"/>
<polygon points="800.5,2012 836.5,2012 818.5,1981.4" fill="#ff1f8c"/>
<polygon points="868.4,1976.4 904.4,1976.4 886.4,1945.8" fill="#ff1f8c"/>
<polygon points="935.4,1891 971.4,1891 953.4,1860.4" fill="#ff1f8c"/>
<polygon points="1002.3,1996.9 1038.3,1996.9 1020.3,1966.3" fill="#ff1f8c"/>
<polygon points="1070,1964.1 1106,1964.1 1088,1933.5" fill="#ff1f8c"/>
<polygon points="1137,2045.7 1173,2045.7 1155,2015.1" fill="#ff1f8c"/>
<polygon points="1203.8,2121.7 1239.8,2121.7 1221.8,2091.1" fill="#ff1f8c"/>
<polygon points="1271.3,2261.7 1307.3,2261.7 1289.3,2231.1" fill="#ff1f8c"/>
<polygon points="1339,2276.9 1375,2276.9 1357,2246.3" fill="#ff1f8c"/>
<polygon points="1405.6,2333.1 1441.6,2333.1 1423.6,2302.5" fill="#ff1f8c"/>
<polygon points="1472.6,2469.1 1508.6,2469.1 1490.6,2438.5" fill="#ff1f8c"/>
<polygon points="1540,2515.7 1576,2515.7 1558,2485.1" fill="#ff1f8c"/>
<polygon points="1607.3,2568.1 1643.3,2568.1 1625.3,2537.5" fill="#ff1f8c"/>
<polygon points="1674.7,2624.2 1710.7,2624.2 1692.7,2593.6" fill="#ff1f8c"/>
<polygon points="1741.3,2834.4 1777.3,2834.4 1759.3,2803.8" fill="#ff1f8c"/>
<line x1="381.3" y1="2905" x2="381.3" y2="2013.5" stroke="#0c0a0a" stroke-width="3.9" stroke-linecap="butt"/>
<line x1="379.4" y1="2351.3" x2="1764.5" y2="2351.3" stroke="#0c0a0a" stroke-width="4.8" stroke-linecap="butt"/>
<line x1="1762.5" y1="2351.6" x2="1762.5" y2="2905" stroke="#0c0a0a" stroke-width="3.9" stroke-linecap="butt"/>
<path d="M396 2354.4h10 M409 2354.4h15 M426 2354.4h4 M432 2354.4h10 M444 2354.4h22 M469 2354.4h4 M475 2354.4h15 M498 2354.4h4 M505 2354.4h4 M517 2354.4h4 M523 2354.4h7 M532 2354.4h22 M562 2354.4h4 M569 2354.4h4 M576 2354.4h10 M594 2354.4h7 M603 2354.4h22 M630 2354.4h22 M655 2354.4h4 M662 2354.4h10 M674 2354.4h22 M698 2354.4h22 M722 2354.4h22 M747 2354.4h15 M770 2354.4h10 M788 2354.4h22 M818 2354.4h10 M833 2354.4h7 M843 2354.4h7 M852 2354.4h22 M879 2354.4h22 M909 2354.4h10 M927 2354.4h10 M939 2354.4h4 M951 2354.4h7 M963 2354.4h7 M978 2354.4h15 M995 2354.4h4 M1004 2354.4h10 M1019 2354.4h22 M1049 2354.4h22 M1079 2354.4h4 M1085 2354.4h10 M1103 2354.4h4 M1109 2354.4h10 M1127 2354.4h10 M1145 2354.4h10 M1157 2354.4h15 M1177 2354.4h7 M1186 2354.4h15 M1203 2354.4h7 M1215 2354.4h7 M1225 2354.4h15 M1248 2354.4h15 M1265 2354.4h7 M1280 2354.4h15 M1300 2354.4h7 M1315 2354.4h22 M1342 2354.4h15 M1362 2354.4h15 M1380 2354.4h7 M1389 2354.4h7 M1399 2354.4h7 M1409 2354.4h4 M1421 2354.4h22 M1446 2354.4h10 M1461 2354.4h4 M1468 2354.4h15 M1488 2354.4h22 M1515 2354.4h7 M1524 2354.4h15 M1547 2354.4h15 M1570 2354.4h15 M1587 2354.4h15 M1610 2354.4h4 M1617 2354.4h4 M1624 2354.4h15 M1642 2354.4h4 M1651 2354.4h22 M1675 2354.4h4 M1681 2354.4h22 M1706 2354.4h22 M1730 2354.4h10 M1742 2354.4h4" stroke="#0c0a0a" stroke-width="1.5" fill="none"/>
<line x1="1444" y1="2072.6" x2="1289.3" y2="2172.9" stroke="#ff1f8c" stroke-width="2.6" stroke-linecap="butt"/>
<line x1="1371" y1="2084" x2="1289.3" y2="2172.9" stroke="#ff1f8c" stroke-width="2.6" stroke-linecap="butt"/>
<line x1="1404.3" y1="2135.7" x2="1289.3" y2="2172.9" stroke="#ff1f8c" stroke-width="2.6" stroke-linecap="butt"/>
<line x1="1384" y1="2616.8" x2="1228.6" y2="2522.8" stroke="#00a0d8" stroke-width="2.8" stroke-linecap="butt"/>
<line x1="1346.5" y1="2557.8" x2="1228.6" y2="2522.8" stroke="#00a0d8" stroke-width="2.8" stroke-linecap="butt"/>
<line x1="1313" y1="2610.8" x2="1228.6" y2="2522.8" stroke="#00a0d8" stroke-width="2.8" stroke-linecap="butt"/>
<text x="343.7" y="1697.8" font-size="70.5" fill="#0c0a0a">b)</text>
<text x="506.4" y="2325" font-size="67.5" fill="#0c0a0a">NO/NO<tspan font-size="46" dy="21">2</tspan><tspan dy="-21"> in</tspan></text>
<text x="1406.2" y="2049" font-size="67.5" fill="#ff1f8c">NO<tspan font-size="46" dy="21">2</tspan></text>
<text x="1369.1" y="2675.3" font-size="67.5" fill="#00a0d8">NO</text>
<rect x="311.2" y="1571.2" width="1466.6" height="1333.8" fill="none" stroke="#0c0a0a" stroke-width="4.3"/>
<line x1="285.5" y1="2905" x2="311.2" y2="2905" stroke="#0c0a0a" stroke-width="4" stroke-linecap="butt"/>
<text x="0" y="0" font-size="64" fill="#0c0a0a" text-anchor="end" transform="translate(254.8 2925.2) scale(1.03 1)">0</text>
<line x1="285.5" y1="2683.8" x2="311.2" y2="2683.8" stroke="#0c0a0a" stroke-width="4" stroke-linecap="butt"/>
<text x="0" y="0" font-size="64" fill="#0c0a0a" text-anchor="end" transform="translate(254.8 2704) scale(1.03 1)">200</text>
<line x1="285.5" y1="2462.6" x2="311.2" y2="2462.6" stroke="#0c0a0a" stroke-width="4" stroke-linecap="butt"/>
<text x="0" y="0" font-size="64" fill="#0c0a0a" text-anchor="end" transform="translate(254.8 2482.8) scale(1.03 1)">400</text>
<line x1="285.5" y1="2241.4" x2="311.2" y2="2241.4" stroke="#0c0a0a" stroke-width="4" stroke-linecap="butt"/>
<text x="0" y="0" font-size="64" fill="#0c0a0a" text-anchor="end" transform="translate(254.8 2261.6) scale(1.03 1)">600</text>
<line x1="285.5" y1="2020.2" x2="311.2" y2="2020.2" stroke="#0c0a0a" stroke-width="4" stroke-linecap="butt"/>
<text x="0" y="0" font-size="64" fill="#0c0a0a" text-anchor="end" transform="translate(254.8 2040.4) scale(1.03 1)">800</text>
<line x1="285.5" y1="1799" x2="311.2" y2="1799" stroke="#0c0a0a" stroke-width="4" stroke-linecap="butt"/>
<text x="0" y="0" font-size="64" fill="#0c0a0a" text-anchor="end" transform="translate(254.8 1819.2) scale(1.03 1)">1000</text>
<line x1="285.5" y1="1577.8" x2="311.2" y2="1577.8" stroke="#0c0a0a" stroke-width="4" stroke-linecap="butt"/>
<text x="0" y="0" font-size="64" fill="#0c0a0a" text-anchor="end" transform="translate(254.8 1598) scale(1.03 1)">1200</text>
<line x1="1777.8" y1="2905" x2="1804" y2="2905" stroke="#0c0a0a" stroke-width="4" stroke-linecap="butt"/>
<text x="0" y="0" font-size="64" fill="#0c0a0a" transform="translate(1835 2925.2) scale(1.03 1)">0</text>
<line x1="1777.8" y1="2639.6" x2="1804" y2="2639.6" stroke="#0c0a0a" stroke-width="4" stroke-linecap="butt"/>
<text x="0" y="0" font-size="64" fill="#0c0a0a" transform="translate(1835 2659.8) scale(1.03 1)">100</text>
<line x1="1777.8" y1="2374.1" x2="1804" y2="2374.1" stroke="#0c0a0a" stroke-width="4" stroke-linecap="butt"/>
<text x="0" y="0" font-size="64" fill="#0c0a0a" transform="translate(1835 2394.3) scale(1.03 1)">200</text>
<line x1="1777.8" y1="2108.7" x2="1804" y2="2108.7" stroke="#0c0a0a" stroke-width="4" stroke-linecap="butt"/>
<text x="0" y="0" font-size="64" fill="#0c0a0a" transform="translate(1835 2128.9) scale(1.03 1)">300</text>
<line x1="1777.8" y1="1843.2" x2="1804" y2="1843.2" stroke="#0c0a0a" stroke-width="4" stroke-linecap="butt"/>
<text x="0" y="0" font-size="64" fill="#0c0a0a" transform="translate(1835 1863.4) scale(1.03 1)">400</text>
<line x1="1777.8" y1="1577.8" x2="1804" y2="1577.8" stroke="#0c0a0a" stroke-width="4" stroke-linecap="butt"/>
<text x="0" y="0" font-size="64" fill="#0c0a0a" transform="translate(1835 1598) scale(1.03 1)">500</text>
<line x1="311.2" y1="2905" x2="311.2" y2="2931" stroke="#0c0a0a" stroke-width="4" stroke-linecap="butt"/>
<text x="0" y="0" font-size="64" fill="#0c0a0a" text-anchor="middle" transform="translate(311.2 3018.5) scale(1.03 1)">0</text>
<line x1="640" y1="2905" x2="640" y2="2931" stroke="#0c0a0a" stroke-width="4" stroke-linecap="butt"/>
<text x="0" y="0" font-size="64" fill="#0c0a0a" text-anchor="middle" transform="translate(640 3018.5) scale(1.03 1)">100</text>
<line x1="968.8" y1="2905" x2="968.8" y2="2931" stroke="#0c0a0a" stroke-width="4" stroke-linecap="butt"/>
<text x="0" y="0" font-size="64" fill="#0c0a0a" text-anchor="middle" transform="translate(968.8 3018.5) scale(1.03 1)">200</text>
<line x1="1297.6" y1="2905" x2="1297.6" y2="2931" stroke="#0c0a0a" stroke-width="4" stroke-linecap="butt"/>
<text x="0" y="0" font-size="64" fill="#0c0a0a" text-anchor="middle" transform="translate(1297.6 3018.5) scale(1.03 1)">300</text>
<line x1="1626.4" y1="2905" x2="1626.4" y2="2931" stroke="#0c0a0a" stroke-width="4" stroke-linecap="butt"/>
<text x="0" y="0" font-size="64" fill="#0c0a0a" text-anchor="middle" transform="translate(1626.4 3018.5) scale(1.03 1)">400</text>
<text x="1074.7" y="3106.7" font-size="74.5" fill="#0c0a0a" text-anchor="middle">Time (min)</text>
<text x="0" y="0" font-size="73" fill="#0c0a0a" transform="translate(103.1 2549.5) rotate(-90) scale(0.99 1.03)">NO and NO<tspan font-size="47" dy="21">2</tspan><tspan dy="-21"> (ppm)</tspan></text>
<text x="0" y="0" font-size="73" fill="#0c0a0a" transform="translate(2033.1 2591.8) rotate(-90) scale(0.99 1.03)">Catalyst temperature (<tspan dy="-9">&#176;</tspan><tspan dy="9" dx="-4">C)</tspan></text>
<polyline points="309,2506.3 577.6,2506.3 1725,1585.3 1757.6,1585.3 1777.3,1742" fill="none" stroke="#ff2a1c" stroke-width="4.2" stroke-linejoin="round" stroke-linecap="butt" stroke-linejoin="miter"/>
<line x1="1519.5" y1="1772.8" x2="1778.5" y2="1772.8" stroke="#ff2a1c" stroke-width="2.6" stroke-linecap="butt"/>
<line x1="1661" y1="1743" x2="1778.5" y2="1772.8" stroke="#ff2a1c" stroke-width="2.6" stroke-linecap="butt"/>
<line x1="1661" y1="1804" x2="1778.5" y2="1772.8" stroke="#ff2a1c" stroke-width="2.6" stroke-linecap="butt"/>
<text x="0" y="0" font-size="67" fill="#ff2a1c" transform="translate(1170.8 2012.2) rotate(-38.6)">temperature ramp</text>
<text x="0" y="0" font-size="66.5" fill="#ff2a1c" transform="translate(1323 1987) rotate(-38.6)">1<tspan dy="-8.5">&#176;</tspan><tspan dy="8.5" dx="-4">C /min</tspan></text>
</svg>
</body>
</html>
